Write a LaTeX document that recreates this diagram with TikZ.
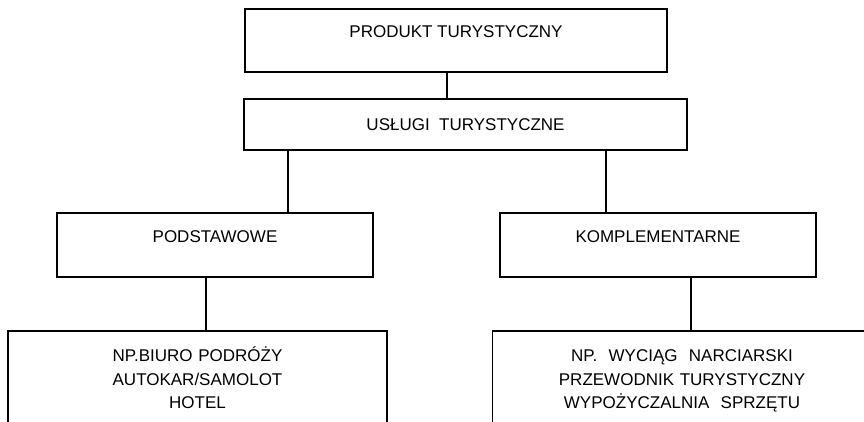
\documentclass[tikz,border=0pt]{standalone}
\usepackage{fontspec}
\setmainfont{Liberation Sans}
\usepackage{tikz}
\usetikzlibrary{positioning, calc}
\tikzset{
  box/.style={rectangle, draw=black, line width=0.9pt, inner sep=0pt, text centered, align=center,
                font=\fontsize{8.5}{11.7}\selectfont},
  topbox/.style={box, text height=14.5pt, text depth=17pt},
  midbox/.style={box, minimum width=158pt, text height=15pt, text depth=17pt},
  leafbox/.style={box, text width=189.5pt, text height=15.5pt, text depth=60pt},
  link/.style={line width=0.9pt}
}

\begin{document}
\begin{tikzpicture}[node distance=42pt]

    \useasboundingbox (0,0) rectangle (432pt,-211pt);
    \clip (0,0) rectangle (432pt,-211pt);

    \node (produkt) [topbox, minimum width=211pt] at (228pt,-20.25pt) {PRODUKT TURYSTYCZNY};
    \node (uslugi) [box, minimum width=221.5pt, text height=16pt, text depth=9.5pt, below of=produkt, xshift=4.75pt] {USŁUGI~ TURYSTYCZNE};
    \node (podst) [midbox, below of=uslugi, xshift=-125.25pt, yshift=-18.25pt] {PODSTAWOWE};
    \node (kompl) [midbox, below of=uslugi, xshift=96.25pt, yshift=-18.25pt] {KOMPLEMENTARNE};
    \node (przykladA) [leafbox, below of=podst, xshift=-8.75pt, yshift=-38.75pt] {NP.BIURO PODRÓŻY\\AUTOKAR/SAMOLOT\\HOTEL};
    \node (przykladB) [leafbox, below of=kompl, xshift=12pt, yshift=-38.75pt] {NP.~ WYCIĄG~ NARCIARSKI\\PRZEWODNIK TURYSTYCZNY\\WYPOŻYCZALNIA~ SPRZĘTU};

    \draw [link] ([xshift=-4.5pt]produkt.south) -- ([xshift=-4.5pt]produkt.south |- uslugi.north);
    \draw [link] ([xshift=36.5pt]podst.north) -- ([xshift=36.5pt]podst.north |- uslugi.south);
    \draw [link] ([xshift=-26pt]kompl.north) -- ([xshift=-26pt]kompl.north |- uslugi.south);
    \draw [link] ([xshift=-4.5pt]podst.south) -- ([xshift=-4.5pt]podst.south |- przykladA.north);
    \draw [link] ([xshift=16.5pt]kompl.south) -- ([xshift=16.5pt]kompl.south |- przykladB.north);

\end{tikzpicture}
\end{document}
